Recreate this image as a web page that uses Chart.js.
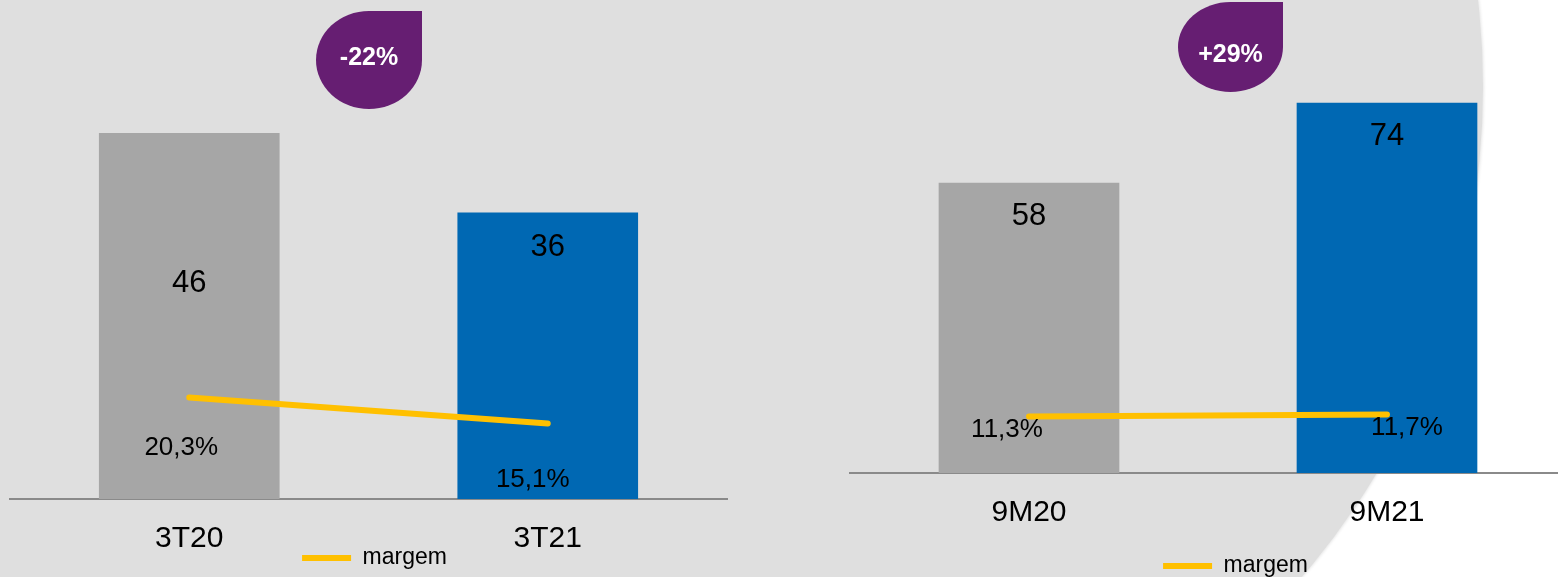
<!DOCTYPE html>
<html>
<head>
<meta charset="utf-8">
<script src="https://cdn.jsdelivr.net/npm/chart.js@4.4.1/dist/chart.umd.min.js"></script>
<style>
  html, body { margin: 0; padding: 0; width: 1558px; height: 577px; overflow: hidden; background: #fff; }
  #fundoRet { position: absolute; left: 0; top: 0; width: 729px; height: 577px; background: #dfdfdf; }
  #fundoArco { position: absolute; left: -25px; top: -667px; width: 1508px; height: 1508px; border-radius: 50%; background: #dfdfdf; box-shadow: 1px 0 3px rgba(0,0,0,0.10); }
  canvas { position: absolute; top: 0; }
  #chartTrimestre { left: 0; }
  #chartAcumulado { left: 760px; }
</style>
</head>
<body>
<div id="fundoArco"></div>
<div id="fundoRet"></div>
<canvas id="chartTrimestre" width="750" height="597"></canvas>
<canvas id="chartAcumulado" width="950" height="590"></canvas>
<script>
// Dados do trimestre
const categoriasTri = ['3T20', '3T21'];
const valoresTri = [46, 36];
const margemTri = [20.3, 15.1];
const variacaoTri = '-22%';

// Dados acumulados (9 meses)
const categoriasAcum = ['9M20', '9M21'];
const valoresAcum = [58, 74];
const margemAcum = [11.3, 11.7];
const variacaoAcum = '+29%';

const coresBarras = ['#a6a6a6', '#0068b3'];
const fonte = '"Liberation Sans", Arial, sans-serif';

// Rótulos de valor dentro das barras e da margem
const pluginRotulos = {
    id: 'rotulos',
    afterDatasetsDraw(chart, args, opts) {
        const ctx = chart.ctx;
        ctx.save();
        ctx.fillStyle = '#000';
        ctx.textAlign = 'center';
        ctx.textBaseline = 'middle';
        ctx.font = '31px ' + fonte;
        chart.getDatasetMeta(0).data.forEach((bar, i) => {
            ctx.fillText(chart.data.datasets[0].data[i], bar.x, bar.y + opts.offsetValor[i]);
        });
        ctx.font = '26px ' + fonte;
        chart.getDatasetMeta(1).data.forEach((pt, i) => {
            const v = chart.data.datasets[1].data[i];
            const txt = v.toFixed(1).replace('.', ',') + '%';
            ctx.fillText(txt, pt.x + opts.offsetPct[i][0], pt.y + opts.offsetPct[i][1]);
        });
        ctx.restore();
    }
};

// Selo roxo com a variação
const pluginSelo = {
    id: 'selo',
    afterDraw(chart, args, opts) {
        const ctx = chart.ctx;
        const { cx, cy, rx, ry, texto, textoY } = opts;
        ctx.save();
        ctx.fillStyle = '#661e72';
        ctx.beginPath();
        ctx.moveTo(cx, cy - ry);
        ctx.lineTo(cx + rx, cy - ry);
        ctx.lineTo(cx + rx, cy);
        ctx.ellipse(cx, cy, rx, ry, 0, 0, Math.PI * 1.5);
        ctx.closePath();
        ctx.fill();
        ctx.fillStyle = '#fff';
        ctx.textAlign = 'center';
        ctx.textBaseline = 'middle';
        ctx.font = 'bold 25px ' + fonte;
        ctx.fillText(texto, cx, textoY);
        ctx.restore();
    }
};

// Legenda fora do centro, como no original
const pluginDeslocaLegenda = {
    id: 'deslocaLegenda',
    afterLayout(chart, args, opts) {
        const leg = chart.legend;
        if (!leg) return;
        leg.left += opts.dx || 0;
        leg.right += opts.dx || 0;
        leg.top += opts.dy || 0;
        leg.bottom += opts.dy || 0;
    }
};

function criarGrafico(id, categorias, valores, margem, cfg) {
    return new Chart(document.getElementById(id), {
        type: 'bar',
        data: {
            labels: categorias,
            datasets: [
                {
                    type: 'bar',
                    label: 'valor',
                    data: valores,
                    backgroundColor: coresBarras,
                    barThickness: 180,
                    yAxisID: 'y',
                    order: 1
                },
                {
                    type: 'line',
                    label: 'margem',
                    data: margem,
                    borderColor: '#ffc000',
                    backgroundColor: '#ffc000',
                    borderWidth: 6,
                    borderCapStyle: 'round',
                    pointRadius: 0,
                    yAxisID: 'y1',
                    order: 0
                }
            ]
        },
        options: {
            responsive: false,
            animation: false,
            devicePixelRatio: 1,
            layout: { padding: cfg.padding },
            scales: {
                x: {
                    grid: { display: false, drawTicks: false },
                    border: { display: true, color: '#8a8a8a', width: 2 },
                    ticks: { color: '#000', font: { family: fonte, size: 30 }, padding: 22 },
                    afterFit: (s) => { s.height = 59; }
                },
                y: { display: false, min: 0, max: cfg.yMax },
                y1: { display: false, min: 0, max: cfg.y1Max }
            },
            plugins: {
                legend: {
                    position: 'bottom',
                    labels: {
                        filter: (item) => item.datasetIndex === 1,
                        usePointStyle: true,
                        pointStyle: 'line',
                        pointStyleWidth: 49,
                        color: '#000',
                        font: { family: fonte, size: 23 },
                        padding: 6
                    }
                },
                tooltip: { enabled: false },
                rotulos: { offsetValor: cfg.offsetValor, offsetPct: cfg.offsetPct },
                selo: cfg.selo,
                deslocaLegenda: cfg.legenda
            }
        },
        plugins: [pluginRotulos, pluginSelo, pluginDeslocaLegenda]
    });
}

criarGrafico('chartTrimestre', categoriasTri, valoresTri, margemTri, {
    padding: { left: 10, right: 23, top: 22, bottom: 0 },
    yMax: 60,
    y1Max: 95.4,
    offsetValor: [150, 35],
    offsetPct: [[-8, 50], [-15, 56]],
    selo: { cx: 369, cy: 60, rx: 53, ry: 49, texto: variacaoTri, textoY: 58 },
    legenda: { dx: 6, dy: -17.5 }
});

criarGrafico('chartAcumulado', categoriasAcum, valoresAcum, margemAcum, {
    padding: { left: 90, right: 144, top: 23, bottom: 19 },
    yMax: 90,
    y1Max: 90,
    offsetValor: [33, 33],
    offsetPct: [[-22, 13], [20, 13]],
    selo: { cx: 470.5, cy: 47, rx: 52.5, ry: 45, texto: variacaoAcum, textoY: 55 },
    legenda: { dx: 27.5, dy: 16.5 }
});
</script>
</body>
</html>
